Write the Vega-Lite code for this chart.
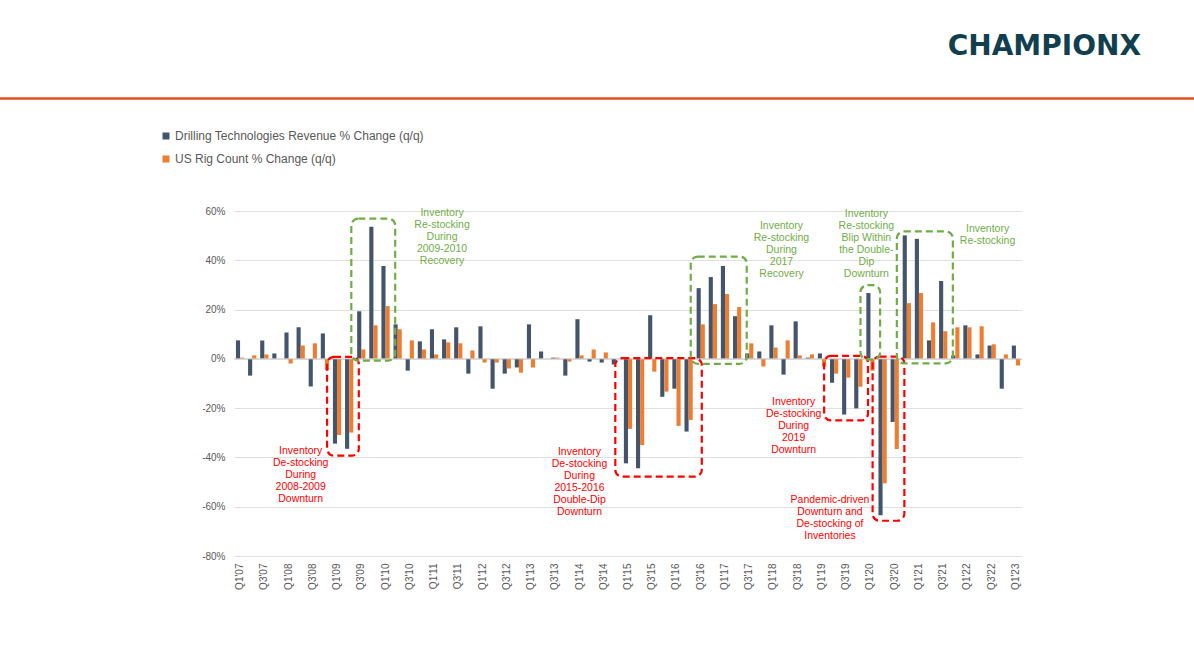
{
  "$schema": "https://vega.github.io/schema/vega-lite/v6.json",
  "width": 788,
  "height": 345,
  "autosize": {"type": "none"},
  "padding": {"left": 234, "top": 211, "right": 172, "bottom": 115},
  "background": "white",
  "config": {"font": "Liberation Sans", "view": {"stroke": null}},
  "title": {
    "text": "CHAMPIONX",
    "anchor": "end",
    "frame": "group",
    "font": "DejaVu Sans",
    "fontWeight": "bold",
    "fontSize": 28,
    "color": "#123F4F",
    "dx": 119,
    "dy": -36,
    "offset": 0
  },
  "datasets": {
    "quarters": [
      {"q": "Q1'07", "rev": 7.5, "rig": 0.5},
      {"q": "Q2'07", "rev": -6.8, "rig": 1.4},
      {"q": "Q3'07", "rev": 7.5, "rig": 1.8},
      {"q": "Q4'07", "rev": 2.2, "rig": 0},
      {"q": "Q1'08", "rev": 10.7, "rig": -1.9},
      {"q": "Q2'08", "rev": 12.8, "rig": 5.4},
      {"q": "Q3'08", "rev": -11.2, "rig": 6.3},
      {"q": "Q4'08", "rev": 10.3, "rig": -4.6},
      {"q": "Q1'09", "rev": -34.4, "rig": -30.9},
      {"q": "Q2'09", "rev": -36.5, "rig": -29.9},
      {"q": "Q3'09", "rev": 19.3, "rig": 3.8},
      {"q": "Q4'09", "rev": 53.6, "rig": 13.6},
      {"q": "Q1'10", "rev": 37.7, "rig": 21.4},
      {"q": "Q2'10", "rev": 14.0, "rig": 12.0},
      {"q": "Q3'10", "rev": -4.8, "rig": 7.5},
      {"q": "Q4'10", "rev": 7.1, "rig": 3.8},
      {"q": "Q1'11", "rev": 12.0, "rig": 1.8},
      {"q": "Q2'11", "rev": 7.9, "rig": 6.7},
      {"q": "Q3'11", "rev": 12.8, "rig": 6.3},
      {"q": "Q4'11", "rev": -6.0, "rig": 3.4},
      {"q": "Q1'12", "rev": 13.2, "rig": -1.5},
      {"q": "Q2'12", "rev": -12.1, "rig": -1.5},
      {"q": "Q3'12", "rev": -6.0, "rig": -3.9},
      {"q": "Q4'12", "rev": -3.5, "rig": -5.6},
      {"q": "Q1'13", "rev": 14.0, "rig": -3.5},
      {"q": "Q2'13", "rev": 3.0, "rig": 0},
      {"q": "Q3'13", "rev": 0.5, "rig": 0.5},
      {"q": "Q4'13", "rev": -6.8, "rig": -1.1},
      {"q": "Q1'14", "rev": 16.1, "rig": 1.4},
      {"q": "Q2'14", "rev": -1.1, "rig": 3.8},
      {"q": "Q3'14", "rev": -1.5, "rig": 2.6},
      {"q": "Q4'14", "rev": -2.3, "rig": 0},
      {"q": "Q1'15", "rev": -42.4, "rig": -28.4},
      {"q": "Q2'15", "rev": -44.4, "rig": -35.0},
      {"q": "Q3'15", "rev": 17.7, "rig": -5.2},
      {"q": "Q4'15", "rev": -15.4, "rig": -13.3},
      {"q": "Q1'16", "rev": -12.1, "rig": -27.2},
      {"q": "Q2'16", "rev": -29.5, "rig": -24.8},
      {"q": "Q3'16", "rev": 28.7, "rig": 14.0},
      {"q": "Q4'16", "rev": 33.2, "rig": 22.2},
      {"q": "Q1'17", "rev": 37.7, "rig": 26.3},
      {"q": "Q2'17", "rev": 17.3, "rig": 21.0},
      {"q": "Q3'17", "rev": 2.2, "rig": 6.3},
      {"q": "Q4'17", "rev": 3.0, "rig": -3.1},
      {"q": "Q1'18", "rev": 13.6, "rig": 4.6},
      {"q": "Q2'18", "rev": -6.4, "rig": 7.5},
      {"q": "Q3'18", "rev": 15.2, "rig": 1.4},
      {"q": "Q4'18", "rev": 0.5, "rig": 1.8},
      {"q": "Q1'19", "rev": 2.2, "rig": -3.1},
      {"q": "Q2'19", "rev": -9.7, "rig": -6.0},
      {"q": "Q3'19", "rev": -22.6, "rig": -7.6},
      {"q": "Q4'19", "rev": -20.1, "rig": -11.3},
      {"q": "Q1'20", "rev": 26.7, "rig": -4.8},
      {"q": "Q2'20", "rev": -63.5, "rig": -50.5},
      {"q": "Q3'20", "rev": -25.6, "rig": -36.6},
      {"q": "Q4'20", "rev": 50.1, "rig": 22.6},
      {"q": "Q1'21", "rev": 48.7, "rig": 26.7},
      {"q": "Q2'21", "rev": 7.5, "rig": 14.8},
      {"q": "Q3'21", "rev": 31.6, "rig": 11.2},
      {"q": "Q4'21", "rev": 1.4, "rig": 12.8},
      {"q": "Q1'22", "rev": 13.6, "rig": 12.8},
      {"q": "Q2'22", "rev": 1.8, "rig": 13.2},
      {"q": "Q3'22", "rev": 5.4, "rig": 5.9},
      {"q": "Q4'22", "rev": -12.1, "rig": 1.8},
      {"q": "Q1'23", "rev": 5.4, "rig": -2.7}
    ],
    "boxes": [
      {"kind": "de", "from": "Q4'08", "to": "Q3'09", "top": 0.8, "bottom": -39.3},
      {"kind": "re", "from": "Q2'09", "to": "Q2'10", "top": 56.9, "bottom": -0.7},
      {"kind": "de3", "from": "Q4'14", "to": "Q3'16", "top": 0.3, "bottom": -47.8},
      {"kind": "re", "from": "Q2'16", "to": "Q3'17", "top": 41.5, "bottom": -2.0},
      {"kind": "de", "from": "Q1'19", "to": "Q1'20", "top": 1.2, "bottom": -25.0},
      {"kind": "re", "from": "Q4'19", "to": "Q2'20", "top": 29.9, "bottom": -0.3},
      {"kind": "de", "from": "Q1'20", "to": "Q4'20", "top": 0.9, "bottom": -65.7},
      {"kind": "re", "from": "Q3'20", "to": "Q4'21", "top": 51.7, "bottom": -1.8}
    ],
    "notes": [
      {"kind": "de_mid", "q": "Q2'08", "top": -35.3, "t": "Inventory\nDe-stocking\nDuring\n2008-2009\nDownturn"},
      {"kind": "re", "q": "Q2'11", "top": 61.2, "t": "Inventory\nRe-stocking\nDuring\n2009-2010\nRecovery"},
      {"kind": "de_mid", "q": "Q1'14", "top": -35.6, "t": "Inventory\nDe-stocking\nDuring\n2015-2016\nDouble-Dip\nDownturn"},
      {"kind": "re", "q": "Q2'18", "top": 56.1, "t": "Inventory\nRe-stocking\nDuring\n2017\nRecovery"},
      {"kind": "de_edge", "q": "Q3'18", "top": -15.5, "t": "Inventory\nDe-stocking\nDuring\n2019\nDownturn"},
      {"kind": "re", "q": "Q1'20", "top": 60.8, "t": "Inventory\nRe-stocking\nBlip Within\nthe Double-\nDip\nDownturn"},
      {"kind": "de_edge", "q": "Q2'19", "top": -55.2, "t": "Pandemic-driven\nDownturn and\nDe-stocking of\nInventories"},
      {"kind": "re", "q": "Q3'22", "top": 54.9, "t": "Inventory\nRe-stocking"}
    ]
  },
  "layer": [
    {
      "data": {"name": "quarters"},
      "transform": [{"fold": ["rev", "rig"], "as": ["series", "value"]}],
      "mark": {"type": "bar"},
      "encoding": {
        "x": {
          "field": "q",
          "type": "ordinal",
          "sort": null,
          "scale": {
            "domain": ["Q1'07","Q2'07","Q3'07","Q4'07","Q1'08","Q2'08","Q3'08","Q4'08","Q1'09","Q2'09","Q3'09","Q4'09","Q1'10","Q2'10","Q3'10","Q4'10","Q1'11","Q2'11","Q3'11","Q4'11","Q1'12","Q2'12","Q3'12","Q4'12","Q1'13","Q2'13","Q3'13","Q4'13","Q1'14","Q2'14","Q3'14","Q4'14","Q1'15","Q2'15","Q3'15","Q4'15","Q1'16","Q2'16","Q3'16","Q4'16","Q1'17","Q2'17","Q3'17","Q4'17","Q1'18","Q2'18","Q3'18","Q4'18","Q1'19","Q2'19","Q3'19","Q4'19","Q1'20","Q2'20","Q3'20","Q4'20","Q1'21","Q2'21","Q3'21","Q4'21","Q1'22","Q2'22","Q3'22","Q4'22","Q1'23"],
            "paddingInner": 0.32,
            "paddingOuter": 0.16
          },
          "axis": {
            "title": null,
            "values": ["Q1'07","Q3'07","Q1'08","Q3'08","Q1'09","Q3'09","Q1'10","Q3'10","Q1'11","Q3'11","Q1'12","Q3'12","Q1'13","Q3'13","Q1'14","Q3'14","Q1'15","Q3'15","Q1'16","Q3'16","Q1'17","Q3'17","Q1'18","Q3'18","Q1'19","Q3'19","Q1'20","Q3'20","Q1'21","Q3'21","Q1'22","Q3'22","Q1'23"],
            "labelAngle": -90,
            "labelFontSize": 10,
            "labelColor": "#595959",
            "labelPadding": 7,
            "domain": false,
            "ticks": false
          }
        },
        "xOffset": {"field": "series", "type": "nominal", "scale": {"paddingInner": 0, "paddingOuter": 0}},
        "y": {
          "field": "value",
          "type": "quantitative",
          "scale": {"domain": [-80, 60], "nice": false},
          "axis": {
            "title": null,
            "values": [-80, -60, -40, -20, 0, 20, 40, 60],
            "labelExpr": "datum.value + '%'",
            "grid": true,
            "gridColor": "#E0E0E0",
            "gridWidth": 1,
            "domain": false,
            "ticks": false,
            "labelFontSize": 10,
            "labelColor": "#595959",
            "labelPadding": 9
          }
        },
        "color": {
          "field": "series",
          "type": "nominal",
          "scale": {"domain": ["rev", "rig"], "range": ["#44546A", "#ED7D31"]},
          "legend": {
            "orient": "none",
            "legendX": -74,
            "legendY": -81,
            "title": null,
            "direction": "vertical",
            "symbolType": "square",
            "symbolSize": 49,
            "symbolStrokeWidth": 0,
            "labelFontSize": 12,
            "labelLimit": 500,
            "labelColor": "#595959",
            "labelOffset": 3,
            "rowPadding": 11,
            "labelExpr": "datum.label == 'rev' ? 'Drilling Technologies Revenue % Change (q/q)' : 'US Rig Count % Change (q/q)'"
          }
        }
      }
    },
    {
      "data": {"values": [{}]},
      "mark": {"type": "rule", "color": "#CCCCCC", "strokeWidth": 1},
      "encoding": {"y": {"datum": 0, "type": "quantitative", "title": null}}
    },
    {
      "data": {"name": "boxes"},
      "transform": [{"filter": "datum.kind == 'de'"}],
      "mark": {"type": "rect", "filled": false, "stroke": "#FF0000", "strokeWidth": 2.2, "strokeDash": [7, 4], "cornerRadius": 7, "clip": false},
      "encoding": {
        "x": {"field": "from", "type": "ordinal", "bandPosition": 0.76},
        "x2": {"field": "to", "bandPosition": 0.2},
        "y": {"field": "top", "type": "quantitative", "title": null},
        "y2": {"field": "bottom"}
      }
    },
    {
      "data": {"name": "boxes"},
      "transform": [{"filter": "datum.kind == 'de3'"}],
      "mark": {"type": "rect", "filled": false, "stroke": "#FF0000", "strokeWidth": 2.2, "strokeDash": [7, 4], "cornerRadius": 7, "clip": false},
      "encoding": {
        "x": {"field": "from", "type": "ordinal", "bandPosition": 0.43},
        "x2": {"field": "to", "bandPosition": 0.63},
        "y": {"field": "top", "type": "quantitative", "title": null},
        "y2": {"field": "bottom"}
      }
    },
    {
      "data": {"name": "boxes"},
      "transform": [{"filter": "datum.kind == 're'"}],
      "mark": {"type": "rect", "filled": false, "stroke": "#70AD47", "strokeWidth": 2.2, "strokeDash": [7, 4], "cornerRadius": 7, "clip": false},
      "encoding": {
        "x": {"field": "from", "type": "ordinal", "bandPosition": 0.76},
        "x2": {"field": "to", "bandPosition": 0.2},
        "y": {"field": "top", "type": "quantitative", "title": null},
        "y2": {"field": "bottom"}
      }
    },
    {
      "data": {"name": "notes"},
      "transform": [{"filter": "datum.kind == 'de_mid'"}],
      "mark": {"type": "text", "color": "#FF0000", "fontSize": 10.5, "lineHeight": 12, "baseline": "top", "align": "center", "lineBreak": "\n", "clip": false},
      "encoding": {
        "x": {"field": "q", "type": "ordinal", "bandPosition": 0.5},
        "y": {"field": "top", "type": "quantitative", "title": null},
        "text": {"field": "t"}
      }
    },
    {
      "data": {"name": "notes"},
      "transform": [{"filter": "datum.kind == 'de_edge'"}],
      "mark": {"type": "text", "color": "#FF0000", "fontSize": 10.5, "lineHeight": 12, "baseline": "top", "align": "center", "lineBreak": "\n", "clip": false},
      "encoding": {
        "x": {"field": "q", "type": "ordinal", "bandPosition": 0},
        "y": {"field": "top", "type": "quantitative", "title": null},
        "text": {"field": "t"}
      }
    },
    {
      "data": {"name": "notes"},
      "transform": [{"filter": "datum.kind == 're'"}],
      "mark": {"type": "text", "color": "#70AD47", "fontSize": 10.5, "lineHeight": 12, "baseline": "top", "align": "center", "lineBreak": "\n", "clip": false},
      "encoding": {
        "x": {"field": "q", "type": "ordinal", "bandPosition": 0},
        "y": {"field": "top", "type": "quantitative", "title": null},
        "text": {"field": "t"}
      }
    },
    {
      "data": {"values": [{}]},
      "mark": {"type": "rule", "color": "#E4501B", "strokeWidth": 2.5, "clip": false},
      "encoding": {
        "x": {"value": -234},
        "x2": {"value": 960},
        "y": {"value": -112.5}
      }
    }
  ]
}
